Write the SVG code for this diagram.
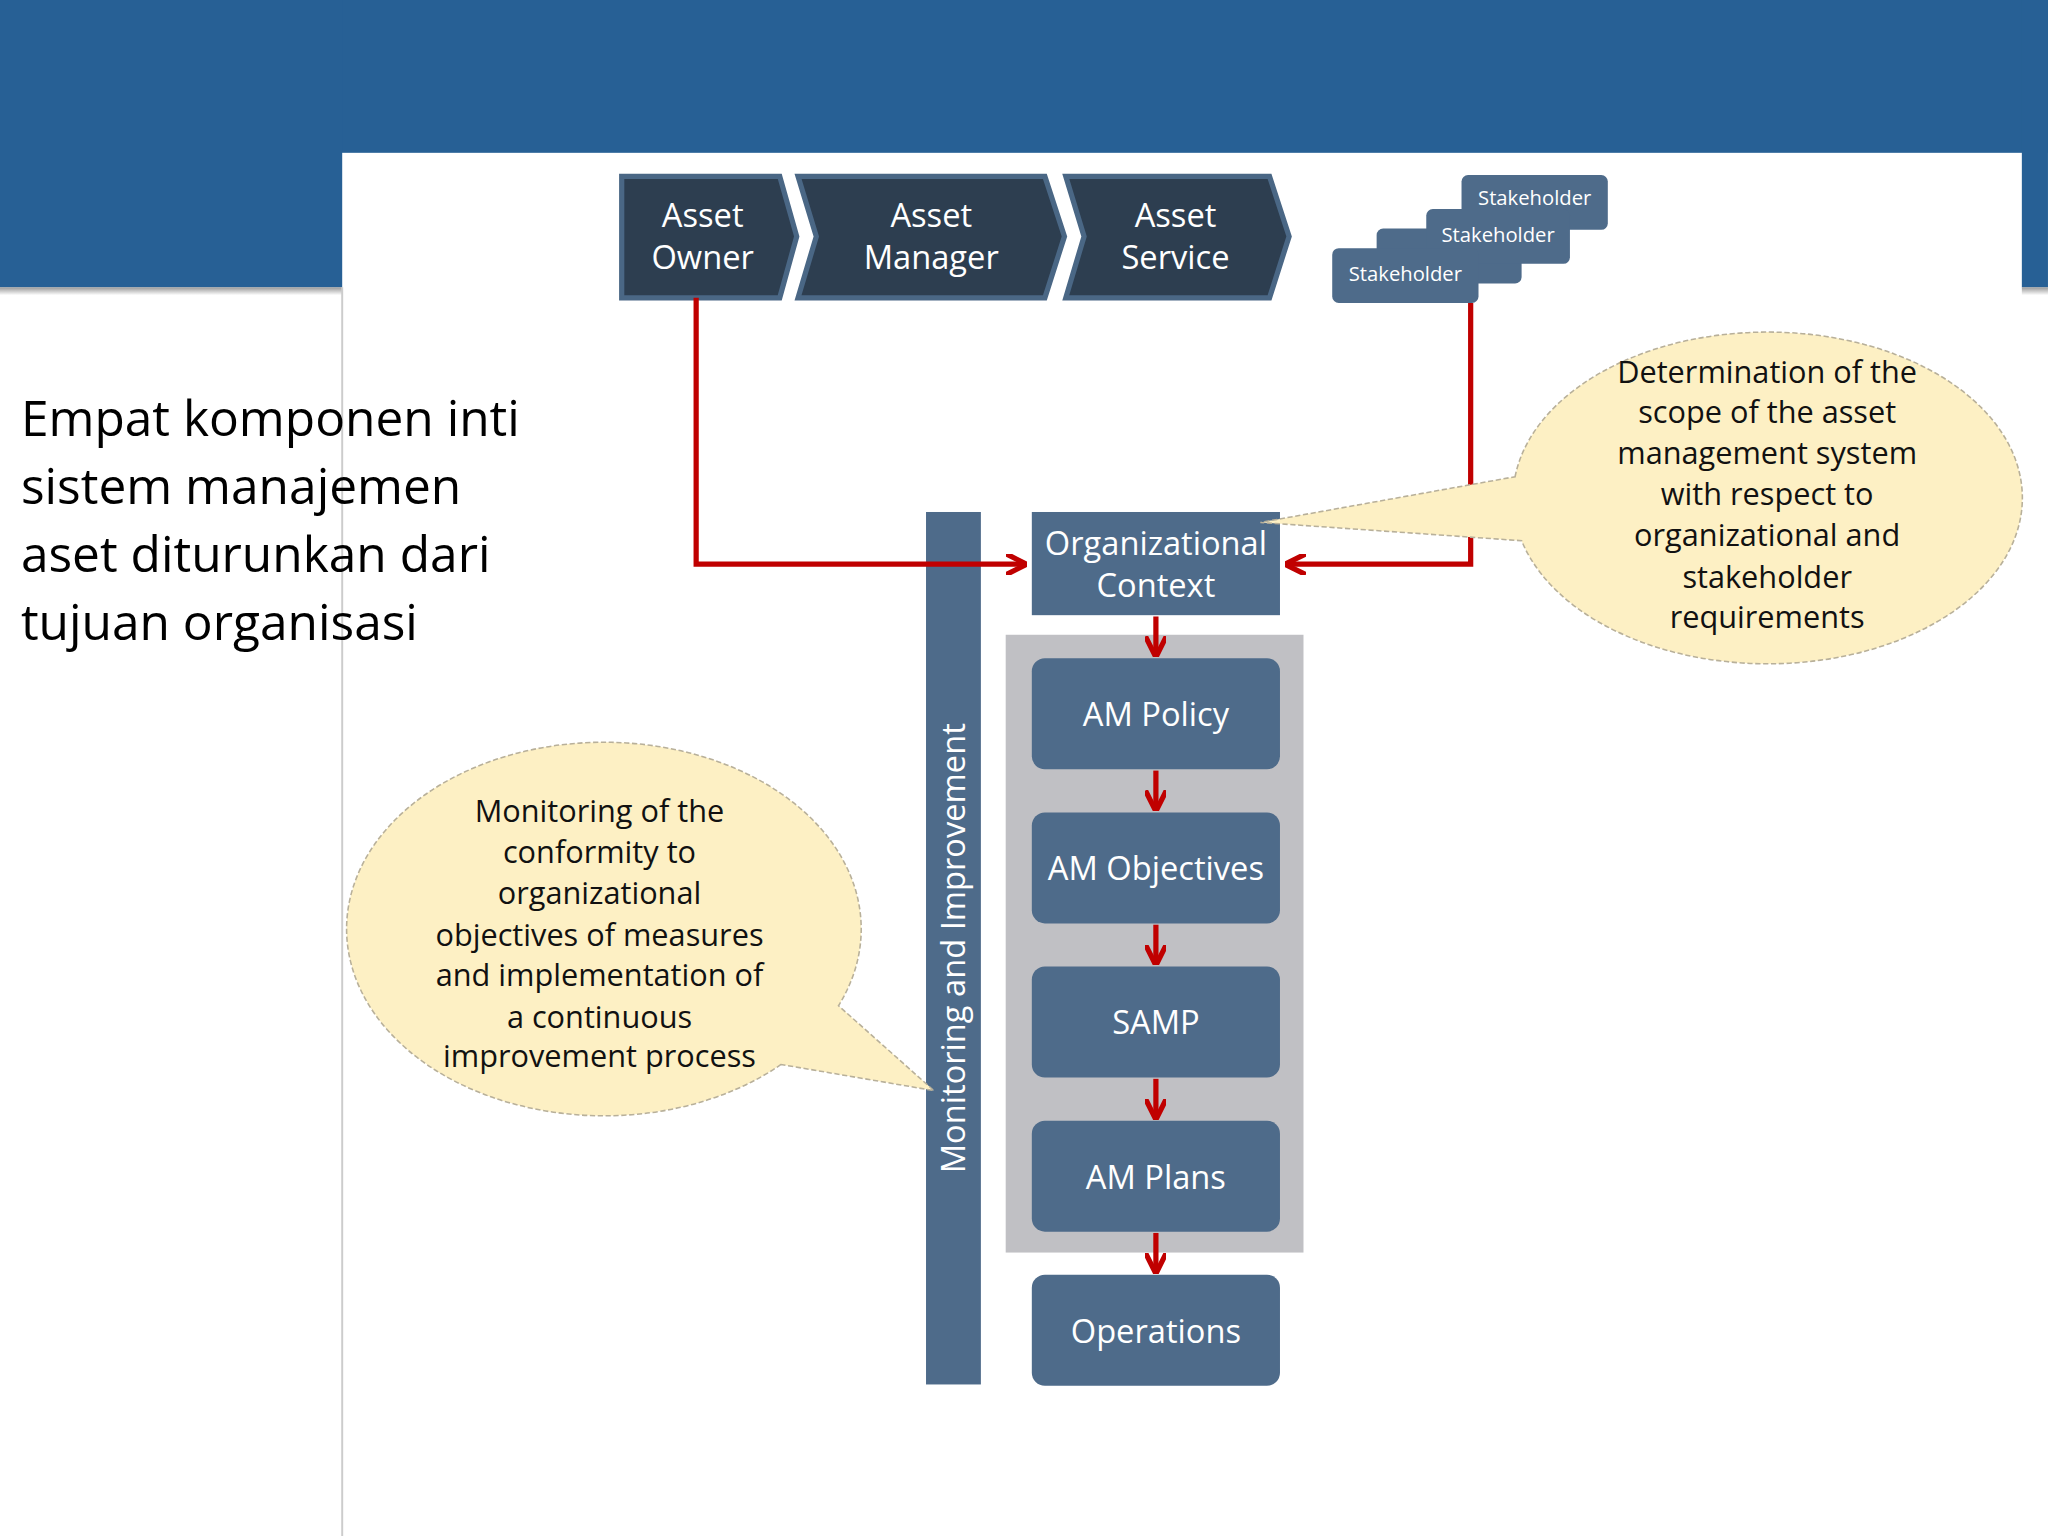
<svg xmlns="http://www.w3.org/2000/svg" width="2048" height="1536" viewBox="0 0 2048 1536">
<defs>
<style>
.t{font-family:"Open Sans","Liberation Sans",sans-serif;fill:#fff;text-anchor:middle}
.box{fill:#4e6b8a}
.red{stroke:#c00000;stroke-width:4;fill:none}
.bub{fill:#fdf0c4;stroke:#b8b09a;stroke-width:1.2;stroke-dasharray:4 2}
.bt{font-family:"Open Sans","Liberation Sans",sans-serif;fill:#111;font-size:23.5px;text-anchor:middle}
</style>
<marker id="ah" viewBox="0 0 10 10" refX="8" refY="5" markerWidth="4" markerHeight="4" orient="auto"><path d="M0,0 L10,5 L0,10" fill="none" stroke="#c00000" stroke-width="2.5"/></marker>
<linearGradient id="sh" x1="0" y1="0" x2="0" y2="1"><stop offset="0" stop-color="#999"/><stop offset="1" stop-color="#fff"/></linearGradient>
</defs>
<rect width="2048" height="1536" fill="#fff"/>
<g transform="scale(1.3061)">
<g id="background">
<rect x="0" y="0" width="1568" height="117" fill="#276095"/>
<rect x="0" y="0" width="262" height="220" fill="#276095"/>
<rect x="1548" y="0" width="20" height="220" fill="#276095"/>
<rect x="0" y="220" width="262" height="6" fill="url(#sh)"/>
<rect x="1548" y="220" width="20" height="6" fill="url(#sh)"/>
<line x1="262" y1="220" x2="262" y2="1176" stroke="#ccc" stroke-width="1.5"/>
</g>
<g id="title"><text font-family="'Open Sans','Liberation Sans',sans-serif" font-size="38" fill="#000"><tspan x="16" y="334">Empat komponen inti</tspan><tspan x="16" y="386">sistem manajemen</tspan><tspan x="16" y="438">aset diturunkan dari</tspan><tspan x="16" y="490">tujuan organisasi</tspan></text></g>
<g id="chevrons" class="t" font-size="25">
<g id="asset-owner"><path d="M476,135 L597,135 L610,181 L597,228 L476,228 Z" fill="#2d3e50" stroke="#4a6785" stroke-width="4"/><text x="538" y="174">Asset</text><text x="538" y="206">Owner</text></g>
<g id="asset-manager"><path d="M611,135 L800,135 L815,181 L800,228 L611,228 L625,181 Z" fill="#2d3e50" stroke="#4a6785" stroke-width="4"/><text x="713" y="174">Asset</text><text x="713" y="206">Manager</text></g>
<g id="asset-service"><path d="M816,135 L972,135 L987,181 L972,228 L816,228 L830,181 Z" fill="#2d3e50" stroke="#4a6785" stroke-width="4"/><text x="900" y="174">Asset</text><text x="900" y="206">Service</text></g>
</g>
<g id="stakeholders" class="t" font-size="15.5">
<rect x="1119" y="134" width="112" height="42" rx="5" class="box"/><text x="1175" y="157">Stakeholder</text>
<rect x="1054" y="175" width="111" height="42" rx="5" class="box"/>
<rect x="1092" y="160" width="110" height="42" rx="5" class="box"/><text x="1147" y="185">Stakeholder</text>
<rect x="1020" y="190" width="112" height="42" rx="5" class="box"/><text x="1076" y="215">Stakeholder</text>
</g>
<g id="monitoring"><rect x="709" y="392" width="42" height="668" class="box"/><text class="t" font-size="25" transform="translate(739,726) rotate(-90)">Monitoring and Improvement</text></g>
<rect id="group-bg" x="770" y="486" width="228" height="473" fill="#c0c0c4"/>
<g id="org-context"><rect x="790" y="392" width="190" height="79" class="box"/><text class="t" font-size="25" x="885" y="425">Organizational</text><text class="t" font-size="25" x="885" y="457">Context</text></g>
<g id="am-policy"><rect x="790" y="504" width="190" height="85" rx="10" class="box"/><text class="t" font-size="25" x="885" y="556">AM Policy</text></g>
<g id="am-objectives"><rect x="790" y="622" width="190" height="85" rx="10" class="box"/><text class="t" font-size="25" x="885" y="674">AM Objectives</text></g>
<g id="samp"><rect x="790" y="740" width="190" height="85" rx="10" class="box"/><text class="t" font-size="25" x="885" y="792">SAMP</text></g>
<g id="am-plans"><rect x="790" y="858" width="190" height="85" rx="10" class="box"/><text class="t" font-size="25" x="885" y="910">AM Plans</text></g>
<g id="operations"><rect x="790" y="976" width="190" height="85" rx="10" class="box"/><text class="t" font-size="25" x="885" y="1028">Operations</text></g>
<g id="connectors">
<path class="red" d="M533,228 V432 H783" marker-end="url(#ah)"/>
<path class="red" d="M1126,232 V432 H987" marker-end="url(#ah)"/>
<path class="red" d="M885,472 V500" marker-end="url(#ah)"/>
<path class="red" d="M885,590 V618" marker-end="url(#ah)"/>
<path class="red" d="M885,708 V736" marker-end="url(#ah)"/>
<path class="red" d="M885,826 V854" marker-end="url(#ah)"/>
<path class="red" d="M885,944 V972" marker-end="url(#ah)"/>
</g>
<g id="bubble-right"><path class="bub" d="M1160,365 A195,127 0 1 1 1165,414 L965,400 Z"/>
<text class="bt"><tspan x="1353" y="293">Determination of the</tspan><tspan x="1353" y="324">scope of the asset</tspan><tspan x="1353" y="355">management system</tspan><tspan x="1353" y="387">with respect to</tspan><tspan x="1353" y="418">organizational and</tspan><tspan x="1353" y="450">stakeholder</tspan><tspan x="1353" y="481">requirements</tspan></text></g>
<g id="bubble-left"><path class="bub" d="M598,815 A197,143 0 1 1 642,770 L715,835 Z"/>
<text class="bt"><tspan x="459" y="629">Monitoring of the</tspan><tspan x="459" y="661">conformity to</tspan><tspan x="459" y="692">organizational</tspan><tspan x="459" y="724">objectives of measures</tspan><tspan x="459" y="755">and implementation of</tspan><tspan x="459" y="787">a continuous</tspan><tspan x="459" y="817">improvement process</tspan></text></g>
</g>
</svg>
